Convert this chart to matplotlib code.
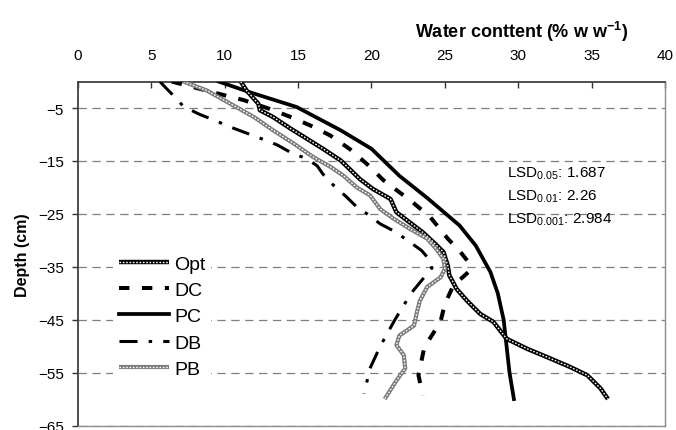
import numpy as np
import matplotlib
matplotlib.use('Agg')
import matplotlib.pyplot as plt

plt.rcParams['font.family'] = ['Liberation Sans', 'DejaVu Sans']
plt.rcParams['mathtext.default'] = 'regular'
plt.rcParams['lines.scale_dashes'] = False

# depth (cm) and water content (% w/w)
opt_depth = [0, -1.7, -4.2, -5.4, -6.7, -8.9, -10.8, -12.7, -14.9, -16.5, -18.4, -20.3, -22.2, -24.7, -26.6,
             -28.5, -30.3, -32.2, -34.8, -36.6, -39.2, -41.4, -43.9, -45.4, -48.6, -50.5, -52.0, -53.9, -55.5,
             -58.0, -60.0]
opt_water = [11.1, 11.5, 12.3, 12.4, 13.3, 14.5, 15.6, 16.7, 17.9, 18.5, 19.2, 20.1, 21.3, 21.7, 22.6,
             23.5, 24.2, 24.9, 25.2, 25.3, 25.8, 26.5, 27.4, 28.3, 29.2, 30.6, 31.9, 33.5, 34.7,
             35.6, 36.1]

dc_depth = [0, -2.3, -3.5, -5.1, -6.8, -8.5, -10.2, -12.7, -15.6, -18.6, -22.8, -25.6, -29.7, -32.0, -34.1,
            -36.0, -37.5, -39.0, -42.0, -45.4, -50.2, -55.5, -59.3]
dc_water = [6.4, 9.6, 11.3, 13.0, 14.6, 16.0, 17.2, 18.5, 19.7, 20.8, 22.8, 24.0, 25.2, 26.0, 26.6,
            26.6, 26.0, 25.5, 25.0, 24.7, 23.6, 23.2, 23.5]

pc_depth = [0, -2.0, -4.8, -9.2, -12.7, -17.8, -22.0, -27.2, -31.0, -33.0, -36.0, -40.0, -45.0, -50.0, -55.0, -60.0]
pc_water = [9.6, 11.7, 14.9, 17.9, 20.0, 21.9, 23.8, 26.0, 27.1, 27.5, 28.1, 28.6, 29.0, 29.2, 29.4, 29.7]

db_depth = [0, -1.2, -2.6, -4.7, -6.2, -7.3, -8.6, -11.1, -12.0, -13.4, -14.6, -15.9, -17.5, -19.3, -21.8,
            -23.7, -25.0, -26.9, -28.2, -29.7, -31.9, -33.8, -35.3, -37.3, -40.0, -45.0, -50.0, -54.2, -59.0]
db_water = [5.6, 6.0, 6.5, 7.2, 8.3, 9.3, 10.4, 12.8, 13.6, 14.5, 15.6, 16.3, 16.7, 17.3, 18.3,
            19.0, 19.7, 20.6, 21.5, 22.3, 23.4, 24.0, 24.1, 23.5, 22.7, 21.6, 20.6, 19.9, 19.5]

pb_depth = [0, -1.7, -4.2, -6.7, -9.2, -11.7, -14.2, -16.1, -17.8, -20.0, -21.5, -24.1, -25.9, -27.8, -29.7,
            -31.6, -33.5, -35.4, -37.0, -38.8, -41.4, -43.5, -46.1, -48.0, -49.8, -51.7, -54.2, -56.5, -60.0]
pb_water = [7.2, 8.8, 10.4, 12.0, 13.3, 14.7, 16.0, 17.2, 18.1, 19.0, 19.9, 20.6, 21.5, 22.6, 23.8,
            24.4, 24.9, 25.0, 24.7, 23.8, 23.3, 23.1, 22.9, 21.9, 21.7, 22.2, 22.3, 21.7, 20.9]

lsd_lines = [r'LSD$_{0.05}$: 1.687', r'LSD$_{0.01}$: 2.26', r'LSD$_{0.001}$: 2.984']

fig = plt.figure(figsize=(6.76, 4.31), dpi=100)
ax = fig.add_axes([0.115, 0.0104, 0.869, 0.798])

# Opt: dark checkered line
opt_a, = ax.plot(opt_water, opt_depth, color='black', lw=3.2, solid_capstyle='butt', zorder=3)
opt_b, = ax.plot(opt_water, opt_depth, color='white', lw=1.0, linestyle=(0, (1.2, 1.2)), zorder=3.1)
# DC: dashed
dc, = ax.plot(dc_water, dc_depth, color='black', lw=2.9, linestyle=(0, (7.5, 9)), zorder=3)
# PC: solid
pc, = ax.plot(pc_water, pc_depth, color='black', lw=2.7, zorder=3)
# DB: dash-dot
db, = ax.plot(db_water, db_depth, color='black', lw=2.2, linestyle=(0, (13, 8, 2.5, 8)), zorder=3)
# PB: light checkered line
pb_a, = ax.plot(pb_water, pb_depth, color='#7a7a7a', lw=3.0, solid_capstyle='butt', zorder=3)
pb_b, = ax.plot(pb_water, pb_depth, color='white', lw=1.0, linestyle=(0, (1.2, 1.2)), zorder=3.1)

ax.set_xlim(0, 40)
ax.set_ylim(-65, 0)
ax.set_xticks(np.arange(0, 41, 5))
ax.set_yticks(np.arange(-65, 0, 10))
ax.xaxis.tick_top()
ax.tick_params(axis='x', direction='in', length=4, width=1, pad=14, labelsize=11, colors='#333333',
               labelcolor='black')
ax.tick_params(axis='y', direction='out', length=4, width=1, pad=6, labelsize=11, colors='#333333',
               labelcolor='black')
ax.yaxis.grid(True, color='#7f7f7f', lw=0.9, linestyle=(0, (6, 4)))
ax.set_axisbelow(True)
for side in ['left', 'top']:
    ax.spines[side].set_color('#404040')
    ax.spines[side].set_linewidth(1.3)
for side in ['right', 'bottom']:
    ax.spines[side].set_color('#8c8c8c')
    ax.spines[side].set_linewidth(1.0)

for i, s in enumerate(lsd_lines):
    ax.text(29.2, -17.3 - 4.3 * i, s, fontsize=11, va='center', ha='left', zorder=5)

leg = ax.legend([(opt_a, opt_b), dc, pc, (db,), (pb_a, pb_b)], ['Opt', 'DC', 'PC', 'DB', 'PB'],
                loc='upper left', bbox_to_anchor=(0.06, 0.513), fontsize=14, frameon=True,
                fancybox=False, framealpha=1, edgecolor='none', facecolor='white',
                handlelength=2.6, handletextpad=0.25, labelspacing=0.45, borderpad=0.3, borderaxespad=0)

fig.text(0.771, 0.911, r'Water conttent (% w w$^{-1}$)', fontsize=13, fontweight='bold',
         ha='center', va='baseline')
fig.text(0.034, 0.408, 'Depth (cm)', fontsize=11.5, fontweight='bold', rotation=90,
         ha='center', va='center')

fig.savefig('out.png', dpi=100)
